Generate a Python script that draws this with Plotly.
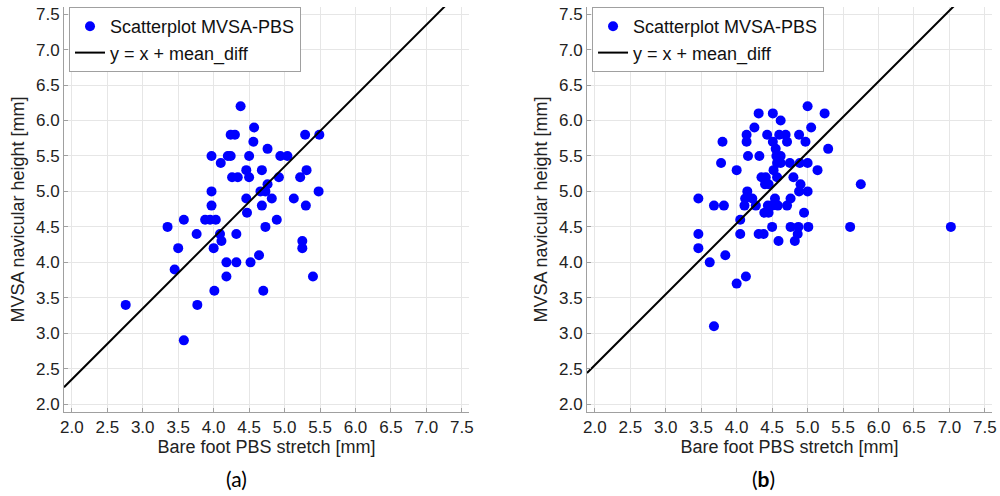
import numpy as np
import plotly.graph_objects as go
from plotly.subplots import make_subplots

# (a) bare foot PBS stretch vs MVSA navicular height
a_x = [2.76, 3.58, 3.35, 3.50, 3.45, 3.58, 3.76, 3.77, 3.88, 3.95, 4.03, 3.97,
       3.97, 3.97, 4.00, 4.01, 4.10, 4.09, 4.11, 4.18, 4.18, 4.20, 4.24, 4.24,
       4.30, 4.26, 4.34, 4.32, 4.32, 4.38, 4.46, 4.50, 4.50, 4.46, 4.47, 4.52,
       4.57, 4.56, 4.64, 4.68, 4.66, 4.68, 4.70, 4.73, 4.73, 4.76, 4.76, 4.82,
       4.89, 4.92, 4.94, 5.04, 5.13, 5.22, 5.25, 5.25, 5.29, 5.31, 5.30, 5.40,
       5.48, 5.49]
a_y = [3.4, 2.9, 4.5, 4.2, 3.9, 4.6, 4.4, 3.4, 4.6, 4.6, 4.6, 5.0,
       5.5, 4.8, 4.2, 3.6, 5.4, 4.4, 4.3, 4.0, 3.8, 5.5, 5.5, 5.8,
       5.8, 5.2, 5.2, 4.4, 4.0, 6.2, 5.3, 5.2, 5.5, 4.9, 4.7, 4.0,
       5.9, 5.7, 4.1, 5.3, 5.0, 4.8, 3.6, 5.0, 4.5, 5.6, 5.1, 4.9,
       4.6, 5.2, 5.5, 5.5, 4.9, 5.2, 4.3, 4.2, 5.8, 5.3, 4.8, 3.8,
       5.0, 5.8]
a_mean_diff = 0.35

# (b)
b_x = [5.00,
       4.31, 4.51, 5.24,
       4.62,
       4.25, 5.05,
       4.14, 4.43, 4.60, 4.69, 4.88,
       3.80, 4.14, 4.51, 4.71, 4.97,
       4.55, 5.29,
       4.16, 4.32, 4.56, 4.62,
       3.78, 4.57, 4.62, 4.75, 4.89, 5.00,
       4.00, 4.52, 5.14,
       4.35, 4.41, 4.57, 4.80,
       4.40, 4.45, 4.90, 5.75,
       4.15, 4.88, 5.00,
       3.46, 4.12, 4.22, 4.54, 4.76,
       3.68, 3.82, 4.11, 4.27, 4.44, 4.50, 4.58, 4.71,
       4.39, 4.45, 4.95,
       4.05,
       4.50, 4.76, 4.87, 5.01, 5.60, 7.02,
       3.46, 4.05, 4.31, 4.38, 4.86,
       4.59, 4.82,
       3.46, 3.84, 3.62, 4.13, 4.00, 3.68]
b_y = [6.2,
       6.1, 6.1, 6.1,
       6.0,
       5.9, 5.9,
       5.8, 5.8, 5.8, 5.8, 5.8,
       5.7, 5.7, 5.7, 5.7, 5.7,
       5.6, 5.6,
       5.5, 5.5, 5.5, 5.5,
       5.4, 5.4, 5.4, 5.4, 5.4, 5.4,
       5.3, 5.3, 5.3,
       5.2, 5.2, 5.2, 5.2,
       5.1, 5.1, 5.1, 5.1,
       5.0, 5.0, 5.0,
       4.9, 4.9, 4.9, 4.9, 4.9,
       4.8, 4.8, 4.8, 4.8, 4.8, 4.8, 4.8, 4.8,
       4.7, 4.7, 4.7,
       4.6,
       4.5, 4.5, 4.5, 4.5, 4.5, 4.5,
       4.4, 4.4, 4.4, 4.4, 4.4,
       4.3, 4.3,
       4.2, 4.1, 4.0, 3.8, 3.7, 3.1]
b_mean_diff = 0.55

ticks = [2.0, 2.5, 3.0, 3.5, 4.0, 4.5, 5.0, 5.5, 6.0, 6.5, 7.0, 7.5]
ax_range = [1.89, 7.6]

FONT = "Liberation Sans, Arial, sans-serif"

fig = make_subplots(rows=1, cols=2, horizontal_spacing=0.1272)

panels = [(a_x, a_y, a_mean_diff, "legend"), (b_x, b_y, b_mean_diff, "legend2")]
for i, (px_, py_, md, lg) in enumerate(panels, start=1):
    fig.add_trace(go.Scatter(x=px_, y=py_, mode="markers", name="Scatterplot MVSA-PBS",
                             marker=dict(color="#0000ff", size=10), legend=lg),
                  row=1, col=i)
    lx = np.array(ax_range)
    fig.add_trace(go.Scatter(x=lx, y=lx + md, mode="lines", name="y = x + mean_diff",
                             line=dict(color="black", width=2), legend=lg),
                  row=1, col=i)

axis_style = dict(range=ax_range, tickvals=ticks, tickformat=".1f",
                  showgrid=True, gridcolor="#e6e6e6", gridwidth=1,
                  showline=True, linecolor="#a0a0a0", linewidth=1,
                  ticks="inside", ticklen=4, tickcolor="#a0a0a0",
                  zeroline=False, tickfont=dict(size=17, color="#222"),
                  ticklabeloverflow="allow", automargin=False)

for i in (1, 2):
    fig.update_xaxes(axis_style, tickangle=0, title=dict(text="Bare foot PBS stretch [mm]",
                     font=dict(size=18, color="#222"), standoff=2), row=1, col=i)
    fig.update_yaxes(axis_style, title=dict(text="MVSA navicular height [mm]",
                     font=dict(size=18, color="#222"), standoff=6), row=1, col=i)

leg = dict(xref="paper", yref="paper", xanchor="left", yanchor="top",
           bgcolor="white", bordercolor="#a0a0a0", borderwidth=1,
           font=dict(size=18, color="#111", family=FONT), tracegroupgap=0)

fig.update_layout(
    width=1000, height=496,
    margin=dict(l=64, r=8, t=7, b=84),
    plot_bgcolor="white", paper_bgcolor="white",
    font=dict(family=FONT),
    legend=dict(leg, x=0.0054, y=1.0),
    legend2=dict(leg, x=0.569, y=1.0),
    annotations=[
        dict(text="(a)", xref="paper", yref="paper", x=0.1864, y=-0.163,
             xanchor="center", yanchor="middle", showarrow=False,
             font=dict(size=21, family="Lato, sans-serif", color="black")),
        dict(text="(<b>b</b>)", xref="paper", yref="paper", x=0.7543, y=-0.163,
             xanchor="center", yanchor="middle", showarrow=False,
             font=dict(size=21, family="Lato, sans-serif", color="black")),
    ],
)

fig.write_html("out.html", config={"displayModeBar": False},
               post_script="document.body.style.margin='0';")
